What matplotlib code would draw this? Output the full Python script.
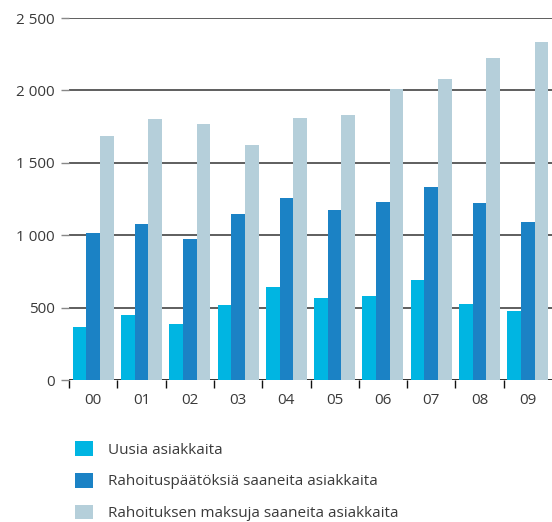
import matplotlib
matplotlib.use("Agg")
import matplotlib.pyplot as plt
import numpy as np
from matplotlib.patches import Patch

years = ["00", "01", "02", "03", "04", "05", "06", "07", "08", "09"]
uusia = [368, 449, 385, 516, 640, 566, 580, 690, 525, 474]
paatoksia = [1013, 1077, 972, 1144, 1255, 1174, 1227, 1331, 1222, 1093]
maksuja = [1685, 1805, 1766, 1623, 1812, 1828, 2010, 2079, 2222, 2332]
labels = ["Uusia asiakkaita",
          "Rahoituspäätöksiä saaneita asiakkaita",
          "Rahoituksen maksuja saaneita asiakkaita"]
colors = ["#00B5E2", "#1B82C5", "#B5CFDA"]
yticks = [0, 500, 1000, 1500, 2000, 2500]

plt.rcParams["font.family"] = ["Open Sans", "DejaVu Sans"]
text_color = "#3a3a3a"

fig = plt.figure(figsize=(5.52, 5.22), dpi=100)
ax = fig.add_axes([0.125, 0.272, 0.875, 0.6935])

x = np.arange(len(years))
w = 0.283
for i, (vals, c) in enumerate(zip([uusia, paatoksia, maksuja], colors)):
    ax.bar(x + (i - 1) * w, vals, width=w, color=c, zorder=3, linewidth=0)

# horizontal grid lines behind the bars
for t in yticks:
    ax.axhline(t, color="#222222" if t == 0 else "#333333",
               linewidth=1.3 if t == 0 else 1.1, zorder=1)

ax.set_xlim(-0.5, 9.5)
ax.set_ylim(0, 2500)
ax.set_yticks(yticks)
ax.set_yticklabels([f"{t:,}".replace(",", " ") for t in yticks])
ax.set_xticks(x)
ax.set_xticklabels(years)
ax.set_xticks(np.arange(-0.5, 9.5, 1.0), minor=True)

ax.tick_params(axis="y", length=6, width=1.0, color="#888888",
               labelsize=11, labelcolor=text_color, pad=4)
ax.tick_params(axis="x", which="major", length=0, labelsize=11,
               labelcolor=text_color, pad=9)
ax.tick_params(axis="x", which="minor", length=6, width=1.0,
               color="#111111", direction="out")

for s in ax.spines.values():
    s.set_visible(False)

handles = [Patch(facecolor=c, edgecolor="none") for c in colors]
fig.legend(handles, labels, loc="upper left",
           bbox_to_anchor=(0.136, 0.155), frameon=False,
           fontsize=11, labelcolor=text_color,
           handlelength=1.15, handleheight=1.1, handletextpad=1.0,
           labelspacing=1.0, borderaxespad=0, borderpad=0)

fig.savefig("out.png", dpi=100)
